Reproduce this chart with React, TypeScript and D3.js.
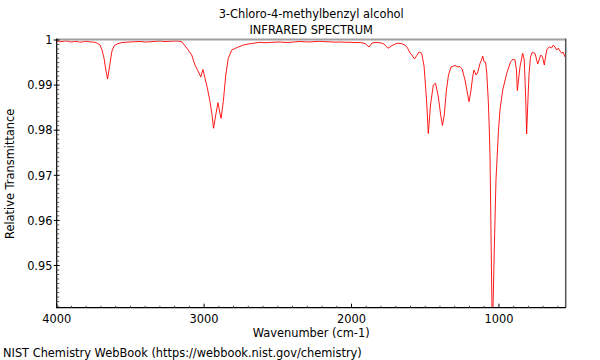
import React from "react";
import * as d3 from "d3";

const titleLines = ["3-Chloro-4-methylbenzyl alcohol", "INFRARED SPECTRUM"];
const xLabel = "Wavenumber (cm-1)";
const yLabel = "Relative Transmittance";
const footer = "NIST Chemistry WebBook (https://webbook.nist.gov/chemistry)";

const xTicks = [4000, 3000, 2000, 1000];
const yTicks = [0.95, 0.96, 0.97, 0.98, 0.99, 1];

const wavenumber = [
  3998, 3981, 3964, 3947, 3930, 3913, 3896, 3879, 3862, 3845, 3828, 3811, 3794, 3777, 3761, 3744, 3727,
  3706, 3693, 3679, 3669, 3655, 3645, 3635, 3625, 3611, 3591, 3557, 3530, 3503, 3469, 3435, 3401, 3367,
  3333, 3299, 3265, 3231, 3204, 3177, 3150, 3118, 3084, 3062, 3039, 3023, 3008, 2999, 2978, 2960, 2946,
  2936, 2921, 2906, 2897, 2885, 2870, 2853, 2836, 2813, 2779, 2734, 2700, 2666, 2621, 2587, 2553, 2519,
  2485, 2451, 2417, 2383, 2349, 2315, 2282, 2248, 2214, 2180, 2146, 2112, 2078, 2044, 2010, 1976, 1942,
  1908, 1881, 1861, 1840, 1820, 1800, 1780, 1752, 1725, 1691, 1664, 1637, 1620, 1603, 1590, 1573, 1558,
  1542, 1524, 1508, 1491, 1479, 1464, 1445, 1430, 1411, 1395, 1383, 1371, 1356, 1342, 1325, 1298, 1278,
  1264, 1250, 1230, 1214, 1203, 1191, 1178, 1169, 1155, 1145, 1128, 1118, 1110, 1101, 1091, 1083, 1072,
  1065, 1060, 1054, 1048, 1044, 1039, 1030, 1020, 1004, 993, 974, 947, 920, 904, 891, 881, 875, 867,
  857, 839, 828, 818, 812, 805, 796, 786, 774, 755, 737, 716, 704, 692, 676, 658, 643, 631, 620, 608,
  597, 586, 574, 565, 552, 547,
];

const transmittance = [
  0.99980, 0.99962, 0.99967, 0.99975, 0.99978, 0.99960, 0.99956, 0.99970, 0.99967, 0.99952, 0.99956, 0.99968,
  0.99971, 0.99958, 0.99956, 0.99950, 0.99933,
  0.99889, 0.99778, 0.99601, 0.99379, 0.99135, 0.99335, 0.99557, 0.99756, 0.99867, 0.99911, 0.99945, 0.99950,
  0.99956, 0.99962, 0.99967, 0.99955, 0.99960,
  0.99970, 0.99978, 0.99965, 0.99971, 0.99975, 0.99978, 0.99956, 0.99823, 0.99667, 0.99446, 0.99297, 0.99180,
  0.99346, 0.99224, 0.98936, 0.98632, 0.98337,
  0.98042, 0.98337, 0.98610, 0.98448, 0.98264, 0.98632, 0.99224, 0.99594, 0.99778, 0.99829, 0.99889, 0.99910,
  0.99927, 0.99949, 0.99940, 0.99945, 0.99952,
  0.99956, 0.99945, 0.99949, 0.99958, 0.99967, 0.99960, 0.99956, 0.99965, 0.99971, 0.99962, 0.99960, 0.99952,
  0.99956, 0.99950, 0.99949, 0.99942, 0.99945,
  0.99922, 0.99845, 0.99933, 0.99945, 0.99945, 0.99935, 0.99911, 0.99816, 0.99878, 0.99927, 0.99922, 0.99889,
  0.99823, 0.99712, 0.99667, 0.99579, 0.99652,
  0.99734, 0.99705, 0.99424, 0.98670, 0.97927, 0.98559, 0.99002, 0.99040, 0.98736, 0.98337, 0.98104, 0.98337,
  0.98892, 0.99224, 0.99401, 0.99435, 0.99401,
  0.99412, 0.99357, 0.99113, 0.98825, 0.98632, 0.98847, 0.99186, 0.99335, 0.99224, 0.99268, 0.99483, 0.99557,
  0.99645, 0.99519, 0.99512, 0.99291, 0.98648,
  0.98005, 0.97340, 0.95788, 0.94236, 0.93570, 0.94236, 0.95566, 0.96896, 0.97938, 0.98448, 0.98892, 0.99262,
  0.99519, 0.99579, 0.99557, 0.99335, 0.98880, 0.99113,
  0.99408, 0.99705, 0.99557, 0.98670, 0.97916, 0.98521, 0.99224, 0.99623, 0.99727, 0.99701, 0.99468, 0.99667,
  0.99623, 0.99446, 0.99778, 0.99851, 0.99823, 0.99889, 0.99845, 0.99778,
  0.99820, 0.99756, 0.99705, 0.99734, 0.99630, 0.99667,
];

const W = 600;
const H = 360;
const left = 56.7;
const right = 565.7;
const top = 40;
const bottom = 307.7;
const FS = 11.4;

export default function App() {
  const x = d3.scaleLinear().domain([4000, 547]).range([left, right]);
  const y = d3.scaleLinear().domain([0.94064, 1]).range([bottom, top]);
  const pts: [number, number][] = wavenumber.map((w, i) => [w, transmittance[i]]);
  const line = d3
    .line<[number, number]>()
    .x((d) => x(d[0]))
    .y((d) => y(d[1]));

  const xMinor = d3.range(4000, 540, -100).filter((v) => v % 1000 !== 0);
  const yMinor = d3.range(941, 1000, 1).map((v) => v / 1000).filter((v) => Math.round(v * 1000) % 10 !== 0);
  const font = "DejaVu Sans, sans-serif";

  return (
    <svg
      width={W}
      height={H}
      style={{ position: "absolute", left: 0, top: 0, background: "#fff" }}
      fontFamily={font}
    >
      <defs>
        <clipPath id="plot">
          <rect x={left} y={top} width={right - left} height={bottom - top} />
        </clipPath>
      </defs>
      <rect x={0} y={0} width={W} height={H} fill="#fff" />
      {titleLines.map((t, i) => (
        <text key={t} x={(left + right) / 2} y={17.5 + i * 16} textAnchor="middle" fontSize={FS} fill="#000">
          {t}
        </text>
      ))}
      <path d={line(pts) || ""} fill="none" stroke="#ff0000" strokeWidth={0.9} clipPath="url(#plot)" />
      {/* frame */}
      <line x1={left} x2={right} y1={top - 0.5} y2={top - 0.5} stroke="#a0a0a0" strokeWidth={2} />
      <line x1={right} x2={right} y1={top - 1.5} y2={bottom} stroke="#555" strokeWidth={1.5} />
      <line x1={left} x2={left} y1={top - 1.5} y2={bottom + 0.5} stroke="#000" strokeWidth={1.2} />
      <line x1={left} x2={right} y1={bottom} y2={bottom} stroke="#000" strokeWidth={1.2} />
      {/* x ticks */}
      {xTicks.map((t) => (
        <g key={t}>
          <line x1={x(t)} x2={x(t)} y1={bottom} y2={bottom - 4} stroke="#000" strokeWidth={1} />
          <text x={x(t)} y={323} textAnchor="middle" fontSize={FS} fill="#000">
            {t}
          </text>
        </g>
      ))}
      {xMinor.map((t) => (
        <line key={t} x1={x(t)} x2={x(t)} y1={bottom} y2={bottom - 2} stroke="#555" strokeWidth={1} />
      ))}
      {/* y ticks */}
      {yTicks.map((t) => (
        <g key={t}>
          <line x1={left - 3} x2={left + 3} y1={y(t)} y2={y(t)} stroke="#000" strokeWidth={1} />
          <text x={52.5} y={y(t) + 4.3} textAnchor="end" fontSize={FS} fill="#000">
            {d3.format("~g")(t)}
          </text>
        </g>
      ))}
      {yMinor.map((t) => (
        <line key={t} x1={left} x2={left + 2.5} y1={y(t)} y2={y(t)} stroke="#555" strokeWidth={1} />
      ))}
      <text x={(left + right) / 2} y={336.5} textAnchor="middle" fontSize={FS} fill="#000">
        {xLabel}
      </text>
      <text
        transform={`translate(14, ${(top + bottom) / 2}) rotate(-90)`}
        textAnchor="middle"
        fontSize={FS}
        fill="#000"
      >
        {yLabel}
      </text>
      <text x={3} y={357} fontSize={FS} fill="#000">
        {footer}
      </text>
    </svg>
  );
}
